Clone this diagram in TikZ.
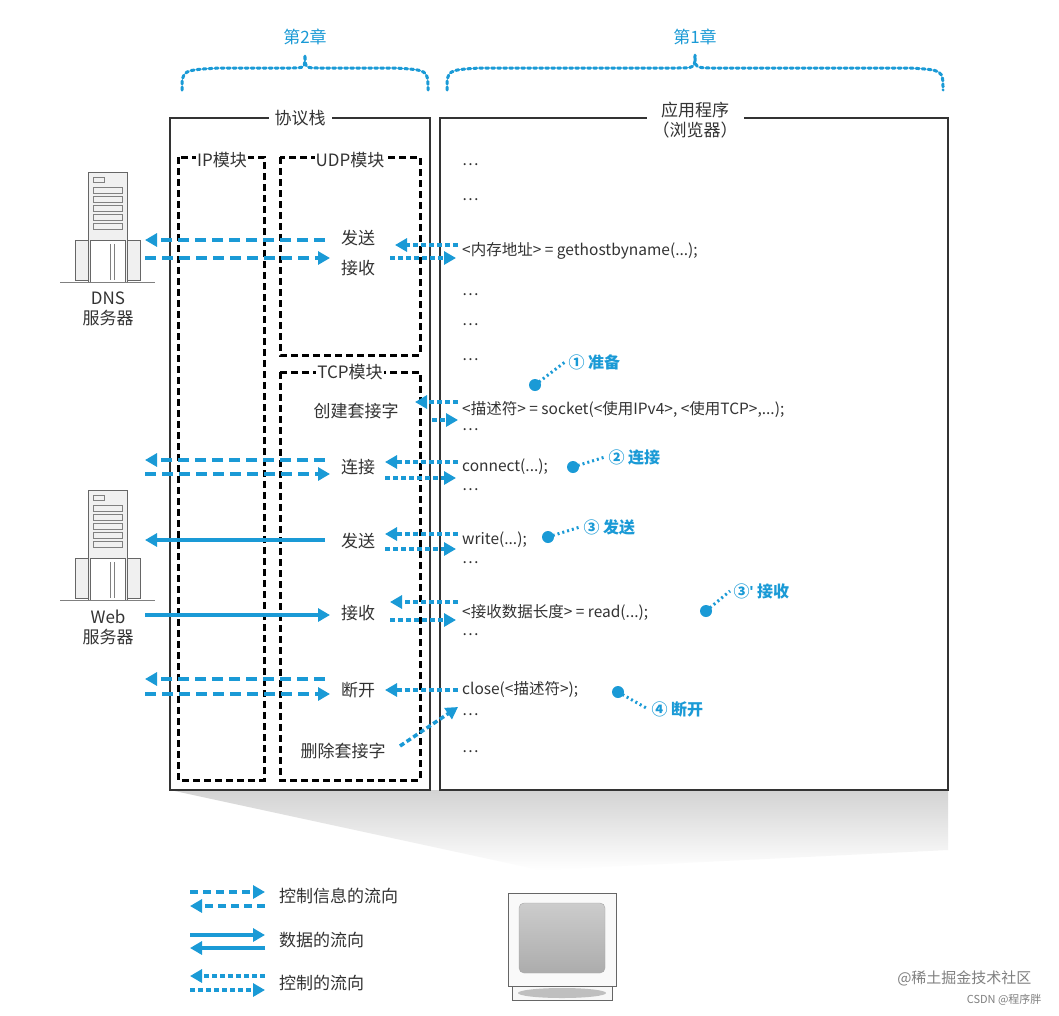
\documentclass[tikz,border=0pt]{standalone}
\usepackage{fontspec}
\setmainfont{Noto Sans CJK SC}
\newfontfamily\latin{Liberation Sans}
\usetikzlibrary{arrows.meta,shadings}
\definecolor{bl}{HTML}{1A9AD6}
\definecolor{tx}{HTML}{333333}
\tikzset{
 x=1pt,y=-1pt,
 lab/.style={font=\fontsize{17}{20}\selectfont,text=tx,inner sep=1pt},
 code/.style={font=\fontsize{15.5}{18}\selectfont,text=tx,anchor=west,inner sep=0pt},
 tip/.style={-{Triangle[width=13pt,length=12pt]}},
 ctl/.style={tip,bl,line width=3.5pt,dash pattern=on 11pt off 6pt},
 cdot/.style={tip,bl,line width=3.5pt,dash pattern=on 5pt off 3pt},
 dat/.style={tip,bl,line width=3.5pt},
 mod/.style={black,line width=3pt,dash pattern=on 7pt off 4pt},
 box/.style={draw=tx,line width=1.5pt},
 brace/.style={bl,line width=3pt,dash pattern=on 3pt off 3pt,line cap=round},
 call/.style={font=\bfseries\fontsize{16}{18}\selectfont,text=bl,anchor=west},
 cline/.style={bl,line width=3pt,dash pattern=on 2pt off 3pt},
 srv/.style={draw=gray!80!black,fill=gray!12,line width=1pt}
}
\begin{document}
\begin{tikzpicture}
\useasboundingbox (0,0) rectangle (1059,1015);
\fill[white] (0,0) rectangle (1059,1015);
% gray funnel
\shade[top color=gray!35,bottom color=white] (170,790)--(948,790)--(948,850)--(540,870)--cycle;
% braces
\node[lab,text=bl] (c2) at (305,37) {第2章};
\node[lab,text=bl] (c1) at (695,37) {第1章};
\draw[brace] (182,90) .. controls (182,70) .. (220,68) -- (290,68) .. controls (305,68) .. (305,55) .. controls (305,68) .. (320,68) -- (395,68) .. controls (428,70) .. (428,90);
\draw[brace] (447,90) .. controls (447,70) .. (480,68) -- (675,68) .. controls (695,68) .. (695,55) .. controls (695,68) .. (715,68) -- (910,68) .. controls (943,70) .. (943,90);
% boxes
\draw[box] (170,118) rectangle (430,790);
\draw[box] (440,118) rectangle (948,790);
\node[lab,fill=white,inner xsep=6pt] (ps) at (300,118) {协议栈};
\node[lab,fill=white,align=center,inner xsep=6pt] (app) at (695,120) {应用程序\\（浏览器）};
% modules
\draw[mod] (178,157) rectangle (264,780);
\draw[mod] (280,157) rectangle (420,355);
\draw[mod] (280,372) rectangle (420,780);
\node[lab,fill=white] (ip) at (222,160) {IP模块};
\node[lab,fill=white] (udp) at (350,160) {UDP模块};
\node[lab,fill=white] (tcp) at (350,372) {TCP模块};
% code
\foreach \y in {165,200,295,325,360,430,490,563,635,715,752} \node[code] at (462,\y) {…};
\node[code] (gh) at (462,251) {<内存地址> = gethostbyname(...);};
\node[code] (so) at (462,409) {<描述符> = socket(<使用IPv4>, <使用TCP>,...);};
\node[code] (co) at (462,467) {connect(...);};
\node[code] (wr) at (462,540) {write(...);};
\node[code] (rd) at (462,612) {<接收数据长度> = read(...);};
\node[code] (cl) at (462,689) {close(<描述符>);};
% stack labels
\node[lab] (us) at (358,238) {发送};
\node[lab] (ur) at (358,268) {接收};
\node[lab] (cs) at (356,411) {创建套接字};
\node[lab] (cn) at (358,467) {连接};
\node[lab] (ts) at (358,541) {发送};
\node[lab] (tr) at (358,613) {接收};
\node[lab] (dc) at (358,690) {断开};
\node[lab] (ds) at (343,751) {删除套接字};
% servers
\foreach \n/\y/\t in {dns/172/DNS,web/490/Web}{
 \begin{scope}[shift={(0,\y)}]
 \draw[srv] (75,108)--(75,68)--(90,68)--(90,108)--cycle;
 \draw[srv] (125,108)--(125,68)--(140,68)--(140,108)--cycle;
 \draw[srv] (88,0) rectangle (127,110);
 \draw[srv,fill=white] (90,68) rectangle (125,110);
 \foreach \k in {15,24,33,42,51} \draw[gray] (93,\k) rectangle (122,\k+6);
 \draw[gray] (93,5) rectangle (104,10);
 \draw[gray] (110,72)--(110,108) (114,72)--(114,108);
 \draw[gray,line width=1pt] (60,110)--(155,110);
 \end{scope}
 \node[lab,align=center] (\n) at (108,\y+137) {\t\\服务器};
}
% DNS arrows
\draw[ctl] (325,240) -- (145,240);
\draw[ctl] (145,258) -- (330,258);
\draw[cdot] (458,245) -- (395,245);
\draw[cdot] (390,258) -- (456,258);
% socket
\draw[cdot] (458,402) -- (415,402);
\draw[cdot] (432,420) -- (458,420);
% connect
\draw[ctl] (325,460) -- (145,460);
\draw[ctl] (145,474) -- (330,474);
\draw[cdot] (458,462) -- (385,462);
\draw[cdot] (385,478) -- (456,478);
% write
\draw[dat] (325,540) -- (145,540);
\draw[cdot] (458,534) -- (385,534);
\draw[cdot] (385,549) -- (456,549);
% read
\draw[dat] (145,615) -- (330,615);
\draw[cdot] (458,602) -- (390,602);
\draw[cdot] (390,620) -- (456,620);
% close
\draw[ctl] (325,679) -- (145,679);
\draw[ctl] (145,694) -- (330,694);
\draw[cdot] (458,690) -- (385,690);
\draw[cdot] (400,746) -- (458,707);
% callouts
\node[call] (k1) at (565,362) {① 准备};
\node[call] (k2) at (605,457) {② 连接};
\node[call] (k3) at (580,527) {③ 发送};
\node[call] (k4) at (730,591) {③{\latin\bfseries'} 接收};
\node[call] (k5) at (648,709) {④ 断开};
\foreach \p/\k in {{(535,385)}/k1,{(573,467)}/k2,{(548,537)}/k3,{(706,611)}/k4,{(618,692)}/k5}{
 \fill[bl] \p circle (6pt);
 \draw[cline] \p -- (\k.west);
}
% legend
\draw[ctl,dash pattern=on 8pt off 5pt] (190,892) -- (265,892);
\draw[ctl,dash pattern=on 8pt off 5pt] (265,906) -- (190,906);
\node[lab,anchor=west] (l1) at (278,896) {控制信息的流向};
\draw[dat] (190,935) -- (265,935);
\draw[dat] (265,948) -- (190,948);
\node[lab,anchor=west] (l2) at (278,940) {数据的流向};
\draw[cdot] (265,976) -- (190,976);
\draw[cdot] (190,990) -- (265,990);
\node[lab,anchor=west] (l3) at (278,983) {控制的流向};
% monitor
\draw[srv,fill=gray!6] (512,986) rectangle (612,1000);
\fill[gray!50] (562,993) ellipse (44pt and 5pt);
\draw[srv,fill=gray!5] (508,893) rectangle (616,986);
\shade[rounded corners=5pt,top color=gray!40,bottom color=gray!65,draw=gray!70] (519,903) rectangle (605,973);
% watermark
\node[font=\fontsize{15}{17}\selectfont,text=gray,anchor=east] (wm) at (1035,978) {@稀土掘金技术社区};
\node[font=\fontsize{11}{13}\selectfont,text=gray,anchor=east] (wm2) at (1045,1000) {CSDN @程序胖};
\end{tikzpicture}
\end{document}
